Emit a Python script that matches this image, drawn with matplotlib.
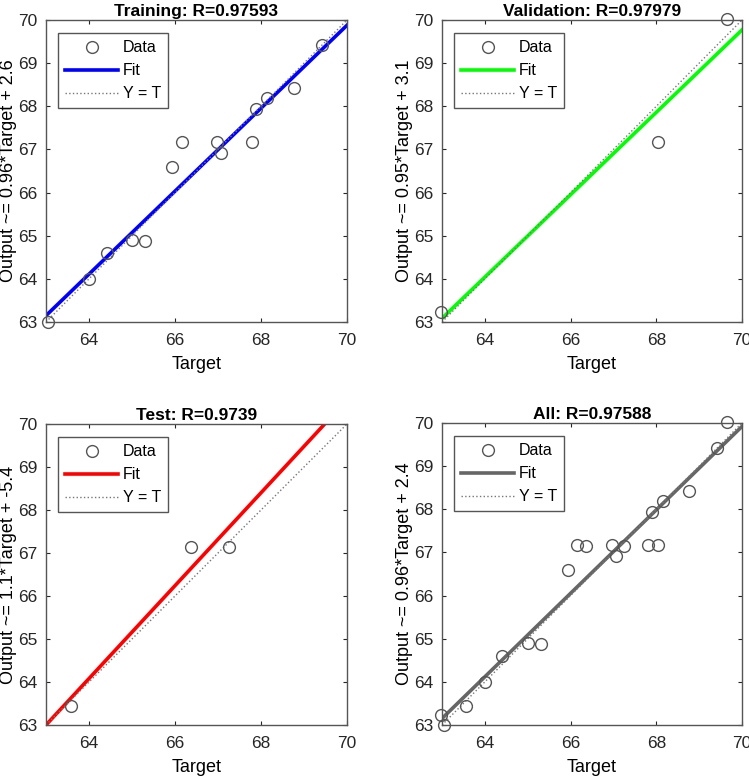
import numpy as np
import matplotlib
matplotlib.use("Agg")
import matplotlib.pyplot as plt

plt.rcParams['font.family'] = ['Liberation Sans', 'DejaVu Sans']

# ---- data ----
train_target = [63.05, 64.01, 64.41, 65.00, 65.30, 65.94, 66.16, 66.97, 67.07, 67.80, 67.89, 68.15, 68.76, 69.42]
train_output = [63.00, 64.00, 64.60, 64.90, 64.88, 66.60, 67.17, 67.17, 66.91, 67.17, 67.93, 68.20, 68.43, 69.42]
val_target = [62.98, 68.05, 69.66]
val_output = [63.23, 67.17, 70.03]
test_target = [63.57, 66.37, 67.25]
test_output = [63.45, 67.15, 67.15]
all_target = train_target + val_target + test_target
all_output = train_output + val_output + test_output

titles = ["Training: R=0.97593", "Validation: R=0.97979", "Test: R=0.9739", "All: R=0.97588"]
ylabels = ["Output ~= 0.96*Target + 2.6", "Output ~= 0.95*Target + 3.1",
           "Output ~= 1.1*Target + -5.4", "Output ~= 0.96*Target + 2.4"]
fit_slope = [0.9614, 0.955, 1.08, 0.967]
fit_intercept = [2.58, 2.92, -5.04, 2.23]
fit_colors = ["#0000ff", "#00ff00", "#ff0000", "#666666"]
xticks = [64, 66, 68, 70]
yticks = [63, 64, 65, 66, 67, 68, 69, 70]
lims = (63, 70)

W, H = 749, 776
fig = plt.figure(figsize=(W / 100, H / 100), dpi=100)

boxes = [(46, 20, 347, 322), (442, 20, 742, 322), (46, 424, 347, 725), (442, 423, 742, 725)]
datasets = [(train_target, train_output), (val_target, val_output),
            (test_target, test_output), (all_target, all_output)]

for i in range(4):
    l, t, r, b = boxes[i]
    ax = fig.add_axes([l / W, 1 - b / H, (r - l) / W, (b - t) / H])
    tx, oy = datasets[i]
    xx = np.array(lims, dtype=float)
    ax.plot(tx, oy, 'o', mfc='none', mec='#555555', ms=8.5, mew=1.0, label='Data',
            zorder=3, clip_on=False)
    ax.plot(xx, fit_slope[i] * xx + fit_intercept[i], '-', color=fit_colors[i], lw=2.6,
            label='Fit', zorder=2)
    ax.plot(xx, xx, ':', color='#777777', lw=1.0, label='Y = T', zorder=2.5)
    ax.set_xlim(lims)
    ax.set_ylim(lims)
    ax.set_xticks(xticks)
    ax.set_yticks(yticks)
    ax.tick_params(direction='in', top=True, right=True, length=3, width=0.8,
                   labelsize=12.5, colors='#262626', pad=6)
    ax.tick_params(axis='x', pad=8)
    for s in ax.spines.values():
        s.set_color('#555555')
        s.set_linewidth(1.0)
    ax.set_title(titles[i], fontsize=12.5, fontweight='bold', pad=3)
    ax.set_xlabel("Target", fontsize=13, labelpad=6)
    ax.set_ylabel(ylabels[i], fontsize=13, labelpad=1)
    leg = ax.legend(loc='upper left', bbox_to_anchor=(0.04, 0.957), borderaxespad=0,
                    fontsize=11.5, fancybox=False, framealpha=1, edgecolor='#555555',
                    handlelength=3.3, handletextpad=0.3, borderpad=0.45, labelspacing=0.5)
    leg.get_frame().set_linewidth(1.0)

fig.savefig("out.png", dpi=100)
